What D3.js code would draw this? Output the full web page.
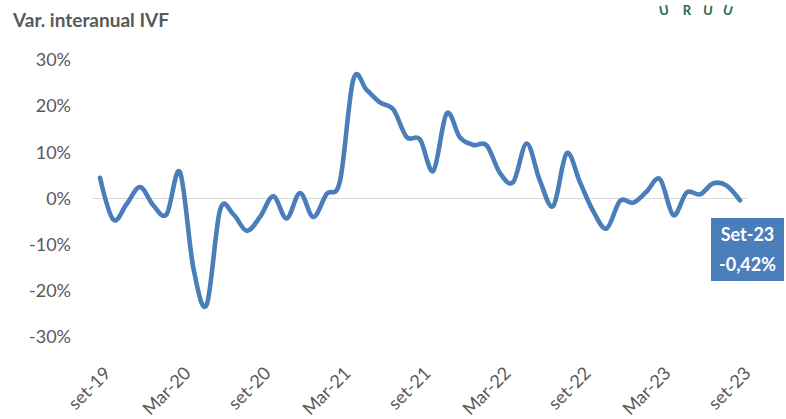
<!DOCTYPE html>
<html>
<head>
<meta charset="utf-8">
<script src="https://cdn.jsdelivr.net/npm/d3@7"></script>
<style>
  html, body { margin: 0; padding: 0; background: #ffffff; }
  svg { display: block; }
  text { font-family: Lato, "Open Sans", sans-serif; }
</style>
</head>
<body>
<svg id="chart" width="786" height="419"></svg>
<script>
// Monthly year-on-year change of the IVF index, Sep-2019 .. Sep-2023
const months = [
  "set-19","oct-19","nov-19","dic-19","ene-20","feb-20","Mar-20","abr-20","may-20","jun-20","jul-20","ago-20",
  "set-20","oct-20","nov-20","dic-20","ene-21","feb-21","Mar-21","abr-21","may-21","jun-21","jul-21","ago-21",
  "set-21","oct-21","nov-21","dic-21","ene-22","feb-22","Mar-22","abr-22","may-22","jun-22","jul-22","ago-22",
  "set-22","oct-22","nov-22","dic-22","ene-23","feb-23","Mar-23","abr-23","may-23","jun-23","jul-23","ago-23",
  "set-23"
];
const varInteranual = [
  4.5, -4.6, -1.2, 2.5, -1.5, -3.4, 5.7, -15.0, -23.0, -2.5, -3.4, -7.0,
  -4.0, 0.5, -4.3, 1.2, -4.0, 1.0, 3.8, 25.8, 23.5, 20.8, 19.3, 13.3,
  12.8, 6.0, 18.4, 13.2, 11.6, 11.5, 5.5, 3.6, 11.9, 3.8, -1.6, 9.8,
  3.5, -2.8, -6.5, -0.5, -0.9, 1.5, 4.2, -3.6, 1.3, 0.9, 3.3, 2.8,
  -0.42
];
const tickLabels = ["set-19","Mar-20","set-20","Mar-21","set-21","Mar-22","set-22","Mar-23","set-23"];
const yTicks = [30, 20, 10, 0, -10, -20, -30];
const lastLabel = ["Set-23", "-0,42%"];

const svg = d3.select("#chart");
const x = d3.scalePoint().domain(months).range([100, 740]);
const y = d3.scaleLinear().domain([-30, 30]).range([337, 60]);

// title
svg.append("text")
  .attr("x", 13).attr("y", 27)
  .attr("font-size", 19).attr("font-weight", 700)
  .attr("fill", "#595959")
  .text("Var. interanual IVF");

// logo lettering in the top-right corner
const logo = svg.append("g").attr("fill", "#2a6a46").attr("font-size", 13).attr("font-weight", 700);
[["U", 664, -10], ["R", 687, 0], ["U", 708, 5], ["U", 728, 15]].forEach(([c, lx, r]) => {
  logo.append("text").attr("x", lx).attr("y", 15)
    .attr("text-anchor", "middle")
    .attr("transform", `rotate(${r},${lx},10)`)
    .text(c);
});

// y axis labels
const yAxis = d3.axisLeft(y).tickValues(yTicks).tickSize(0).tickPadding(0)
  .tickFormat(d => d + "%");
svg.append("g")
  .attr("transform", "translate(71,0)")
  .call(yAxis)
  .call(g => g.select(".domain").remove())
  .call(g => g.selectAll("text")
    .attr("font-size", 18).attr("fill", "#595959")
    .attr("font-family", "Lato, 'Open Sans', sans-serif"));

// zero line
svg.append("line")
  .attr("x1", 93).attr("x2", 747)
  .attr("y1", y(0)).attr("y2", y(0))
  .attr("stroke", "#d9d9d9").attr("stroke-width", 1.2);

// x axis labels, rotated
const xAxis = d3.axisBottom(x).tickValues(tickLabels).tickSize(0).tickPadding(0);
svg.append("g")
  .attr("transform", "translate(0,370)")
  .call(xAxis)
  .call(g => g.select(".domain").remove())
  .call(g => g.selectAll("text")
    .attr("font-size", 18).attr("fill", "#595959")
    .attr("font-family", "Lato, 'Open Sans', sans-serif")
    .attr("text-anchor", "end")
    .attr("dy", "0.35em")
    .attr("transform", "translate(7,0) rotate(-45)"));

// series line
const line = d3.line()
  .x((d, i) => x(months[i]))
  .y(d => y(d))
  .curve(d3.curveCardinal.tension(0));
svg.append("path")
  .datum(varInteranual)
  .attr("d", line)
  .attr("fill", "none")
  .attr("stroke", "#4a7ebb")
  .attr("stroke-width", 4.6)
  .attr("stroke-linejoin", "round")
  .attr("stroke-linecap", "round");

// label for the last value
const lab = svg.append("g");
lab.append("rect")
  .attr("x", 711).attr("y", 218).attr("width", 73).attr("height", 63)
  .attr("fill", "#4a7ebb");
lab.selectAll("text.val").data(lastLabel).join("text")
  .attr("class", "val")
  .attr("x", 747.5).attr("y", (d, i) => 241 + i * 30)
  .attr("text-anchor", "middle")
  .attr("font-size", 18).attr("font-weight", 700)
  .attr("fill", "#ffffff")
  .text(d => d);
</script>
</body>
</html>
